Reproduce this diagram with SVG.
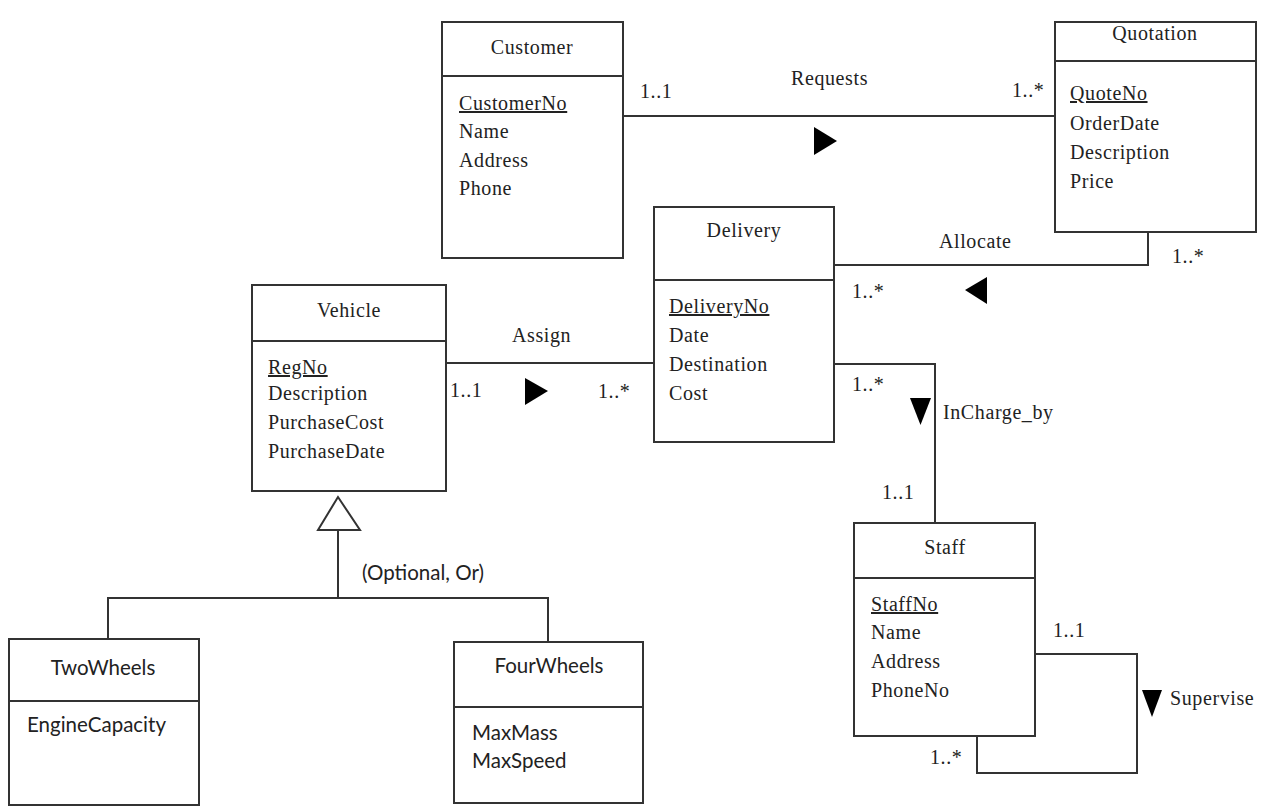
<svg xmlns="http://www.w3.org/2000/svg" width="1272" height="806" viewBox="0 0 1272 806">
<style>
.box{fill:#fff;stroke:#333;stroke-width:2}
.ln{fill:none;stroke:#333;stroke-width:2}
.t{font-family:"Liberation Serif","Times New Roman",serif;font-size:20px;fill:#222;letter-spacing:0.6px}
.h{font-family:"Liberation Serif","Times New Roman",serif;font-size:20px;fill:#222;text-anchor:middle;letter-spacing:0.6px}
.c{font-family:Lato,"Liberation Sans",sans-serif;font-size:20.5px;fill:#222}
.u{text-decoration:underline}
.arr{fill:#000}
</style>
<rect width="1272" height="806" fill="#fff"/>
<g id="connectors">
  <line class="ln" x1="622" y1="116" x2="1055" y2="116"/>
  <polygon class="arr" points="814,127 837,141 814,155"/>
  <polyline class="ln" points="1148,232 1148,265 834,265"/>
  <polygon class="arr" points="965,290 987,277 987,304"/>
  <line class="ln" x1="446" y1="363" x2="654" y2="363"/>
  <polygon class="arr" points="525,378 548,391 525,405"/>
  <polyline class="ln" points="834,364 935,364 935,523"/>
  <polygon class="arr" points="910,398 931,398 920.5,425"/>
  <polyline class="ln" points="1035,654 1137,654 1137,773 977,773 977,736"/>
  <polygon class="arr" points="1142,690 1162,690 1152,717"/>
  <polygon points="338,497 318,530 360,530" fill="#fff" stroke="#333" stroke-width="2"/>
  <polyline class="ln" points="338,530 338,598"/>
  <polyline class="ln" points="108,639 108,598 548,598 548,642"/>
  <text class="t" x="640" y="98">1..1</text>
  <text class="t" x="791" y="85">Requests</text>
  <text class="t" x="1012" y="97">1..*</text>
  <text class="t" x="939" y="248">Allocate</text>
  <text class="t" x="1172" y="263">1..*</text>
  <text class="t" x="852" y="298">1..*</text>
  <text class="t" x="512" y="342">Assign</text>
  <text class="t" x="450" y="397">1..1</text>
  <text class="t" x="598" y="398">1..*</text>
  <text class="t" x="852" y="391">1..*</text>
  <text class="t" x="943" y="419">InCharge_by</text>
  <text class="t" x="882" y="499">1..1</text>
  <text class="t" x="1053" y="637">1..1</text>
  <text class="t" x="1170" y="705">Supervise</text>
  <text class="t" x="930" y="764">1..*</text>
  <text class="c" x="362" y="580">(Optional, Or)</text>
</g>
<g id="customer">
  <rect class="box" x="442" y="22" width="181" height="236"/>
  <line class="ln" x1="442" y1="76" x2="623" y2="76"/>
  <text class="h" x="532" y="54">Customer</text>
  <text class="t u" x="459" y="110">CustomerNo</text>
  <text class="t" x="459" y="138">Name</text>
  <text class="t" x="459" y="167">Address</text>
  <text class="t" x="459" y="195">Phone</text>
</g>
<g id="quotation">
  <rect class="box" x="1055" y="22" width="201" height="210"/>
  <line class="ln" x1="1055" y1="61" x2="1256" y2="61"/>
  <text class="h" x="1155" y="40">Quotation</text>
  <text class="t u" x="1070" y="100">QuoteNo</text>
  <text class="t" x="1070" y="130">OrderDate</text>
  <text class="t" x="1070" y="159">Description</text>
  <text class="t" x="1070" y="188">Price</text>
</g>
<g id="delivery">
  <rect class="box" x="654" y="207" width="180" height="235"/>
  <line class="ln" x1="654" y1="280" x2="834" y2="280"/>
  <text class="h" x="744" y="237">Delivery</text>
  <text class="t u" x="669" y="313">DeliveryNo</text>
  <text class="t" x="669" y="342">Date</text>
  <text class="t" x="669" y="371">Destination</text>
  <text class="t" x="669" y="400">Cost</text>
</g>
<g id="vehicle">
  <rect class="box" x="252" y="285" width="194" height="206"/>
  <line class="ln" x1="252" y1="341" x2="446" y2="341"/>
  <text class="h" x="349" y="317">Vehicle</text>
  <text class="t u" x="268" y="374">RegNo</text>
  <text class="t" x="268" y="400">Description</text>
  <text class="t" x="268" y="429">PurchaseCost</text>
  <text class="t" x="268" y="458">PurchaseDate</text>
</g>
<g id="staff">
  <rect class="box" x="854" y="523" width="181" height="213"/>
  <line class="ln" x1="854" y1="578" x2="1035" y2="578"/>
  <text class="h" x="945" y="554">Staff</text>
  <text class="t u" x="871" y="611">StaffNo</text>
  <text class="t" x="871" y="639">Name</text>
  <text class="t" x="871" y="668">Address</text>
  <text class="t" x="871" y="697">PhoneNo</text>
</g>
<g id="twowheels">
  <rect class="box" x="9" y="639" width="190" height="166"/>
  <line class="ln" x1="9" y1="701" x2="199" y2="701"/>
  <text class="c" x="103" y="675" text-anchor="middle">TwoWheels</text>
  <text class="c" x="27" y="732">EngineCapacity</text>
</g>
<g id="fourwheels">
  <rect class="box" x="454" y="642" width="189" height="161"/>
  <line class="ln" x1="454" y1="707" x2="643" y2="707"/>
  <text class="c" x="549" y="673" text-anchor="middle">FourWheels</text>
  <text class="c" x="472" y="740">MaxMass</text>
  <text class="c" x="472" y="768">MaxSpeed</text>
</g>
</svg>
